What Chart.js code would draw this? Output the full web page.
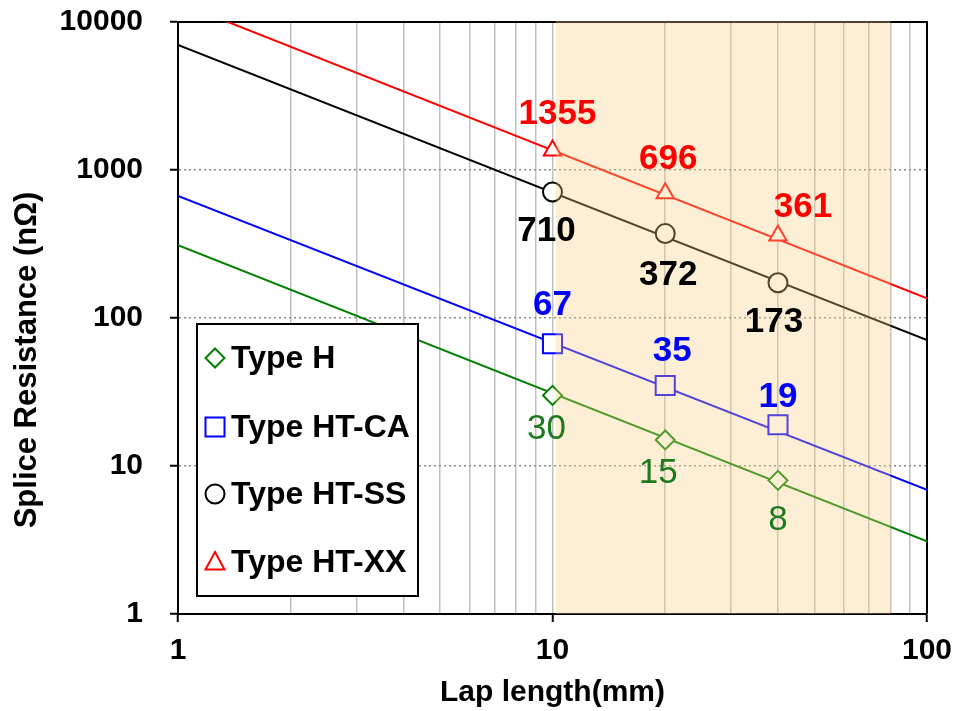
<!DOCTYPE html>
<html><head><meta charset="utf-8">
<script src="https://cdn.jsdelivr.net/npm/chart.js@4"></script>
<style>html,body{margin:0;padding:0;background:#fff}#wrap{width:953px;height:711px;position:relative}</style>
</head><body><div id="wrap"><canvas id="c" width="953" height="711"></canvas></div>
<script>
// ---- data ----
const lapLength = [10, 20, 40];
const typeH    = [30, 15, 8];
const typeHTCA = [67, 35, 19];
const typeHTSS = [710, 372, 173];
const typeHTXX = [1355, 696, 361];
const seriesNames = ['Type H', 'Type HT-CA', 'Type HT-SS', 'Type HT-XX'];
// fitted power-law lines, read at x = 1 and x = 100
const fitX  = [1, 100];
const fitH  = [311, 3.1];
const fitCA = [667, 6.9];
const fitSS = [7000, 71];
const fitXX = [13600, 136];
// axis ticks
const yTicks = [1, 10, 100, 1000, 10000];
const xTicks = [1, 2, 3, 4, 5, 6, 7, 8, 9, 10, 20, 30, 40, 50, 60, 70, 80, 90, 100];
const xLabels = [1, 10, 100];
const xTitle = 'Lap length(mm)';
const yTitle = 'Splice Resistance (nΩ)';
// highlighted lap-length range
const shadeRange = [10.2, 80];

// ---- styles ----
const FONT = "'Liberation Sans', Arial, sans-serif";
const GREEN = '#008000', BLUE = '#0000ff', BLACK = '#000000', RED = '#ff0000';
const seriesColors = [GREEN, BLUE, BLACK, RED];
const seriesShapes = ['rectRot', 'rect', 'circle', 'triangle'];
const seriesRadius = [9.5, 13.5, 9.5, 10];
const labelColors = ['#1f7a1f', '#0000ff', '#000000', '#ff0000'];
const labelWeights = ['normal', 'bold', 'bold', 'bold'];
const labelOffsets = [
  [[-6, 34], [-7, 33], [0, 40]],
  [[0, -38], [7, -34], [0, -27]],
  [[-6, 39], [3, 42], [-4, 40]],
  [[5, -36], [3, -34], [25, -28]]
];
const seriesValues = [typeH, typeHTCA, typeHTSS, typeHTXX];
const fits = [fitH, fitCA, fitSS, fitXX];

const pointSets = seriesValues.map((vals, s) => ({
  label: seriesNames[s],
  data: lapLength.map((x, i) => ({x: x, y: vals[i]})),
  showLine: false,
  pointStyle: seriesShapes[s],
  pointRadius: seriesRadius[s],
  pointHoverRadius: seriesRadius[s],
  pointBorderWidth: 2,
  pointBackgroundColor: '#ffffff',
  pointBorderColor: seriesColors[s],
  borderColor: seriesColors[s],
  backgroundColor: '#ffffff'
}));
const lineSets = fits.map((f, s) => ({
  label: seriesNames[s] + ' fit',
  data: fitX.map((x, i) => ({x: x, y: f[i]})),
  showLine: true,
  pointRadius: 0,
  borderColor: seriesColors[s],
  borderWidth: 2,
  fill: false
}));

function zeroPad(s) { s.paddingTop = 0; s.paddingBottom = 0; s.paddingLeft = 0; s.paddingRight = 0; }

const framePlugin = {
  id: 'frame',
  beforeDatasetsDraw(chart) {
    const {ctx, chartArea: a} = chart;
    ctx.save();
    ctx.strokeStyle = '#000';
    ctx.lineWidth = 2;
    ctx.beginPath();
    ctx.moveTo(a.left, a.top); ctx.lineTo(a.right, a.top); ctx.lineTo(a.right, a.bottom);
    ctx.stroke();
    // y axis title
    ctx.translate(27, 360);
    ctx.rotate(-Math.PI / 2);
    ctx.fillStyle = '#000';
    ctx.font = 'bold 31px ' + FONT;
    ctx.textAlign = 'center';
    ctx.textBaseline = 'middle';
    ctx.fillText(yTitle, 0, 0);
    ctx.restore();
  }
};
const shadePlugin = {
  id: 'shade',
  afterDatasetsDraw(chart) {
    const {ctx, chartArea: a, scales: {x}} = chart;
    const x0 = x.getPixelForValue(shadeRange[0]);
    const x1 = x.getPixelForValue(shadeRange[1]);
    ctx.save();
    ctx.fillStyle = 'rgba(247,205,130,0.33)';
    ctx.fillRect(x0, a.top - 1, x1 - x0, a.bottom - a.top + 1);
    ctx.restore();
  }
};
const labelPlugin = {
  id: 'vlabels',
  afterDatasetsDraw(chart) {
    const {ctx, scales: {x, y}} = chart;
    ctx.save();
    ctx.textAlign = 'center';
    ctx.textBaseline = 'middle';
    seriesValues.forEach((vals, s) => {
      ctx.fillStyle = labelColors[s];
      ctx.font = labelWeights[s] + ' 35px ' + FONT;
      vals.forEach((v, i) => {
        const px = x.getPixelForValue(lapLength[i]) + labelOffsets[s][i][0];
        const py = y.getPixelForValue(v) + labelOffsets[s][i][1];
        ctx.fillText(String(v), px, py);
      });
    });
    ctx.restore();
  }
};
function drawShape(ctx, shape, cx, cy, r) {
  ctx.beginPath();
  if (shape === 'rectRot') {
    ctx.moveTo(cx - r, cy); ctx.lineTo(cx, cy - r); ctx.lineTo(cx + r, cy); ctx.lineTo(cx, cy + r); ctx.closePath();
  } else if (shape === 'rect') {
    ctx.rect(cx - r, cy - r, 2 * r, 2 * r);
  } else if (shape === 'circle') {
    ctx.arc(cx, cy, r, 0, Math.PI * 2);
  } else {
    ctx.moveTo(cx, cy - r); ctx.lineTo(cx + r * 0.95, cy + r * 0.75); ctx.lineTo(cx - r * 0.95, cy + r * 0.75); ctx.closePath();
  }
  ctx.fill();
  ctx.stroke();
}
const legendPlugin = {
  id: 'boxLegend',
  afterDraw(chart) {
    const {ctx} = chart;
    const bx = 197, by = 324, bw = 221, bh = 272;
    ctx.save();
    ctx.fillStyle = '#fff';
    ctx.strokeStyle = '#000';
    ctx.lineWidth = 2;
    ctx.fillRect(bx, by, bw, bh);
    ctx.strokeRect(bx, by, bw, bh);
    const rowY = [358, 427, 494, 562];
    const legR = [9.5, 9.5, 9.5, 10];
    seriesNames.forEach((name, s) => {
      ctx.fillStyle = '#fff';
      ctx.strokeStyle = seriesColors[s];
      ctx.lineWidth = 2;
      drawShape(ctx, seriesShapes[s], 215, rowY[s], legR[s]);
      ctx.fillStyle = '#000';
      ctx.font = 'bold 32px ' + FONT;
      ctx.textAlign = 'left';
      ctx.textBaseline = 'middle';
      ctx.fillText(name, 231, rowY[s] + 1);
    });
    ctx.restore();
  }
};

new Chart(document.getElementById('c'), {
  type: 'scatter',
  data: {datasets: pointSets.concat(lineSets)},
  plugins: [framePlugin, shadePlugin, labelPlugin, legendPlugin],
  options: {
    responsive: false,
    animation: false,
    devicePixelRatio: 1,
    layout: {padding: {top: 22, right: 26, left: 0, bottom: 0}},
    plugins: {legend: {display: false}, tooltip: {enabled: false}},
    scales: {
      x: {
        type: 'logarithmic', min: 1, max: 100,
        afterBuildTicks: (s) => { s.ticks = xTicks.map(v => ({value: v, major: xLabels.includes(v)})); },
        afterFit: (s) => { s.height = 97; zeroPad(s); },
        ticks: {
          autoSkip: false, maxRotation: 0, minRotation: 0, padding: 11, color: '#000',
          font: {family: FONT, size: 30, weight: 'bold'},
          callback: (v) => xLabels.includes(v) ? String(v) : ''
        },
        grid: {
          color: '#c0c0c0', lineWidth: 1.5, tickLength: 8, tickWidth: 2,
          tickColor: (c) => (c.tick && xLabels.includes(c.tick.value)) ? '#000' : 'rgba(0,0,0,0)',
          tickBorderDash: []
        },
        border: {color: '#000', width: 2},
        title: {display: true, text: xTitle, color: '#000',
          font: {family: FONT, size: 30, weight: 'bold'}, padding: {top: 0, bottom: 0}}
      },
      y: {
        type: 'logarithmic', min: 1, max: 10000,
        afterBuildTicks: (s) => { s.ticks = yTicks.map(v => ({value: v, major: true})); },
        afterFit: (s) => { s.width = 178; zeroPad(s); },
        ticks: {
          padding: 27, color: '#000',
          font: {family: FONT, size: 30, weight: 'bold'},
          callback: (v) => String(v)
        },
        grid: {color: '#8c8c8c', lineWidth: 1.5, tickLength: 8, tickWidth: 2, tickColor: '#000', tickBorderDash: []},
        border: {color: '#000', width: 2, dash: [2, 3]},
        title: {display: false}
      }
    }
  }
});
</script></body></html>
